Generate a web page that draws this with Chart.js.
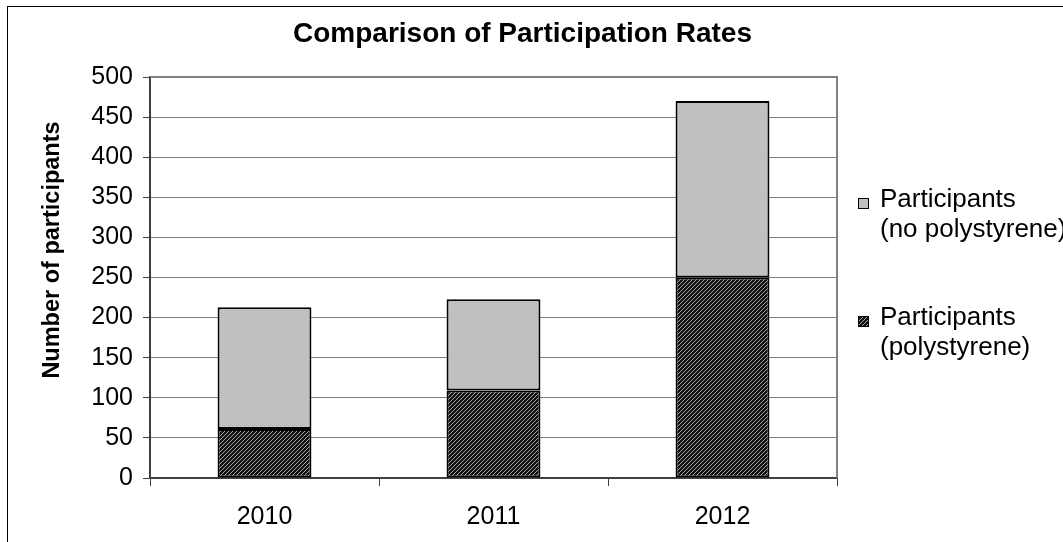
<!doctype html>
<html lang="en">
<head>
<title>Comparison of Participation Rates</title>
<script src="https://cdn.jsdelivr.net/npm/chart.js"></script>
<style>
  html, body { margin: 0; padding: 0; background: #fff; }
  #wrap { width: 1063px; height: 542px; }
</style>
</head>
<body>
<div id="wrap"><canvas id="chart"></canvas></div>
<script>
const years = ['2010', '2011', '2012'];
const withPoly = [61, 109, 250];
const noPoly = [152, 114, 220];
const seriesNames = ['Participants (polystyrene)', 'Participants (no polystyrene)'];
const legendLines = [['Participants', '(no polystyrene)'], ['Participants', '(polystyrene)']];
const yTitle = 'Number of participants';
const yMin = 0, yMax = 500, yStep = 50;

const FONT = "'Liberation Sans', Arial, sans-serif";

// dark diagonal hatch like the old Excel fill
function hatch() {
  const c = document.createElement('canvas');
  c.width = 4; c.height = 4;
  const g = c.getContext('2d');
  g.fillStyle = '#111';
  g.fillRect(0, 0, 4, 4);
  g.fillStyle = '#a8a8a8';
  for (let i = 0; i < 4; i++) g.fillRect(3 - i, i, 1, 1);
  return g.createPattern(c, 'repeat');
}
const hatchFill = hatch();

const framePlugin = {
  id: 'frame',
  beforeDraw(chart) {
    const ctx = chart.ctx;
    ctx.save();
    ctx.fillStyle = '#fff';
    ctx.fillRect(0, 0, chart.width, chart.height);
    ctx.strokeStyle = '#000';
    ctx.lineWidth = 1;
    ctx.strokeRect(7.5, 6.5, chart.width + 20, chart.height + 20);
    ctx.restore();
  },
  beforeDatasetsDraw(chart) {
    const a = chart.chartArea;
    const ctx = chart.ctx;
    ctx.save();
    ctx.strokeStyle = '#808080';
    ctx.lineWidth = 2;
    ctx.beginPath();
    ctx.moveTo(a.left, a.top);
    ctx.lineTo(a.right, a.top);
    ctx.lineTo(a.right, a.bottom);
    ctx.stroke();
    ctx.restore();
  },
  afterDraw(chart) {
    // axis title sits a bit above the plot centre in the original
    const ctx = chart.ctx;
    ctx.save();
    ctx.translate(53, 250);
    ctx.rotate(-Math.PI / 2);
    ctx.font = 'bold 23.5px ' + FONT;
    ctx.textAlign = 'center';
    ctx.textBaseline = 'middle';
    ctx.fillStyle = '#000';
    ctx.fillText(yTitle, 0, 0);
    ctx.restore();
  }
};

const legendPlugin = {
  id: 'sideLegend',
  afterDraw(chart) {
    const ctx = chart.ctx;
    const ds = chart.data.datasets;
    const order = [1, 0];
    const tops = [200, 318];
    ctx.save();
    ctx.font = '26px ' + FONT;
    ctx.textBaseline = 'middle';
    order.forEach((di, k) => {
      const y = tops[k];
      ctx.fillStyle = ds[di].backgroundColor;
      ctx.fillRect(858, y - 2, 11, 11);
      ctx.strokeStyle = '#000';
      ctx.lineWidth = 1;
      ctx.strokeRect(858.5, y - 1.5, 10, 10);
      ctx.fillStyle = '#000';
      legendLines[k].forEach((t, j) => ctx.fillText(t, 880, y + j * 29.5));
    });
    ctx.restore();
  }
};

new Chart(document.getElementById('chart'), {
  type: 'bar',
  data: {
    labels: years,
    datasets: [
      {
        label: seriesNames[0],
        data: withPoly,
        backgroundColor: hatchFill,
        borderColor: '#000',
        borderWidth: 2,
        borderSkipped: false,
        inflateAmount: 0
      },
      {
        label: seriesNames[1],
        data: noPoly,
        backgroundColor: '#c0c0c0',
        borderColor: '#000',
        borderWidth: 2,
        borderSkipped: false,
        inflateAmount: 0
      }
    ]
  },
  options: {
    responsive: true,
    maintainAspectRatio: false,
    animation: false,
    layout: { padding: { left: 0, right: 18, top: 0, bottom: 0 } },
    datasets: { bar: { categoryPercentage: 1, barPercentage: 0.41 } },
    plugins: {
      legend: { display: false },
      tooltip: { enabled: false },
      title: {
        display: true,
        text: 'Comparison of Participation Rates',
        color: '#000',
        font: { family: FONT, size: 28, weight: 'bold' },
        padding: { top: 17, bottom: 26.4 }
      }
    },
    scales: {
      x: {
        stacked: true,
        afterFit(s) { s.height = 64; },
        grid: { drawOnChartArea: false, drawTicks: true, tickLength: 8, color: '#404040', offset: true },
        border: { color: '#404040', width: 2 },
        ticks: { color: '#000', padding: 16, font: { family: FONT, size: 25 } }
      },
      y: {
        stacked: true,
        min: yMin,
        max: yMax,
        afterFit(s) { s.width = 150; },
        grid: { color: '#808080', lineWidth: 1, tickLength: 7, tickColor: '#404040' },
        border: { color: '#404040', width: 2 },
        ticks: { stepSize: yStep, color: '#000', padding: 10, font: { family: FONT, size: 25 } }
      },
      yRight: {
        position: 'right',
        display: true,
        afterFit(s) { s.width = 208; },
        grid: { display: false },
        border: { display: false },
        ticks: { display: false }
      }
    }
  },
  plugins: [framePlugin, legendPlugin]
});
</script>
</body>
</html>
